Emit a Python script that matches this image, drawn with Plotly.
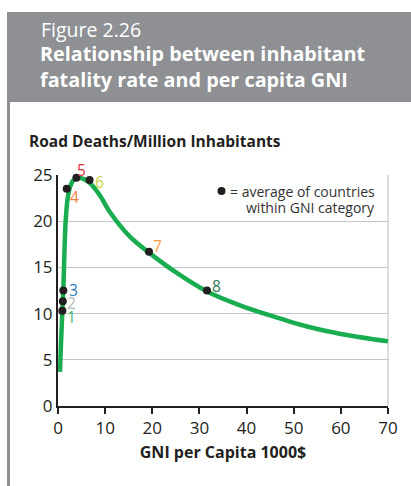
import plotly.graph_objects as go

# ---- data ----
curve_x = [0.42, 0.6, 0.8, 0.92, 1.0, 1.13, 1.3, 1.6, 2.0, 2.5, 3.2, 4.3, 5.5, 7.0, 9.0, 11.0, 15.3, 19.3, 25.2, 31.6, 38.6, 45.0, 52.8, 60.0, 70.0]
curve_y = [3.7, 6.3, 8.8, 10.3, 11.3, 12.5, 15.5, 19.8, 22.3, 23.6, 24.4, 24.7, 24.55, 24.0, 22.7, 21.0, 18.3, 16.6, 14.4, 12.4, 10.9, 9.8, 8.6, 7.8, 7.0]

point_labels = ["1", "2", "3", "4", "5", "6", "7", "8"]
point_x = [0.92, 1.02, 1.13, 1.85, 3.9, 6.7, 19.3, 31.6]
point_y = [10.3, 11.35, 12.5, 23.5, 24.7, 24.45, 16.7, 12.5]

x_ticks = [0, 10, 20, 30, 40, 50, 60, 70]
y_ticks = [0, 5, 10, 15, 20, 25]

# ---- styles ----
label_colors = ["#3cb878", "#b4b8bc", "#2b7bc0", "#f08040", "#e0323c", "#c8d23c", "#f7a040", "#2e7d55"]
label_shift = [(9, -6), (9, -2), (10, 1), (8, -8), (5, 8), (10, -2), (9, 6), (10, 5)]
GREEN = "#19ad50"
GRAY = "#8e9094"
FONT = "Open Sans"

W, H = 411, 486
L, R, T, B = 58, 23, 175, 80
PW, PH = W - L - R, H - T - B


def px(x):
    return (x - L) / PW


def py(y):
    return (H - B - y) / PH


fig = go.Figure()
fig.add_trace(go.Scatter(x=curve_x, y=curve_y, mode="lines",
                         line=dict(color=GREEN, width=4.5, shape="spline", smoothing=0.8),
                         hoverinfo="skip", cliponaxis=False))
fig.add_trace(go.Scatter(x=point_x, y=point_y, mode="markers",
                         marker=dict(color="#231f20", size=8), cliponaxis=False))

annotations = []
for lab, x, y, c, (dx, dy) in zip(point_labels, point_x, point_y, label_colors, label_shift):
    annotations.append(dict(x=x, y=y, xref="x", yref="y", text=lab, showarrow=False,
                            xshift=dx, yshift=dy, font=dict(family=FONT, size=15.5, color=c)))

# header
annotations += [
    dict(x=px(39), y=py(29), xref="paper", yref="paper", text="Figure 2.26", showarrow=False,
         xanchor="left", yanchor="middle", font=dict(family=FONT, size=19.5, color="white")),
    dict(x=px(38), y=py(66), xref="paper", yref="paper",
         text="<b>Relationship between inhabitant</b><br><b>fatality rate and per capita GNI</b>",
         showarrow=False, xanchor="left", yanchor="middle", align="left",
         font=dict(family=FONT, size=19.8, color="white")),
    dict(x=px(27), y=py(141), xref="paper", yref="paper", text="<b>Road Deaths/Million Inhabitants</b>",
         showarrow=False, xanchor="left", yanchor="middle", font=dict(family=FONT, size=15.5, color="#231f20")),
    dict(x=px(377), y=py(191), xref="paper", yref="paper", text="= average of countries",
         showarrow=False, xanchor="right", yanchor="middle", font=dict(family=FONT, size=14, color="#333")),
    dict(x=px(377), y=py(207), xref="paper", yref="paper", text="within GNI category",
         showarrow=False, xanchor="right", yanchor="middle", font=dict(family=FONT, size=14, color="#333")),
]

shapes = [
    dict(type="rect", xref="paper", yref="paper", x0=px(7), x1=px(W + 2), y0=py(102), y1=py(12),
         fillcolor=GRAY, line=dict(width=0), layer="below"),
    dict(type="rect", xref="paper", yref="paper", x0=px(7), x1=px(10), y0=py(H + 2), y1=py(102),
         fillcolor=GRAY, line=dict(width=0), layer="below"),
    dict(type="line", xref="paper", yref="paper", x0=1, x1=1, y0=0, y1=1,
         line=dict(color="#c4c7cc", width=1.2), layer="below"),
    dict(type="circle", xref="paper", yref="paper", x0=px(217.5), x1=px(225.5), y0=py(195), y1=py(187),
         fillcolor="#231f20", line=dict(width=0)),
]

fig.update_layout(
    width=W, height=H, margin=dict(l=L, r=R, t=T, b=B, autoexpand=False),
    paper_bgcolor="white", plot_bgcolor="white", showlegend=False,
    annotations=annotations, shapes=shapes,
    font=dict(family=FONT, color="#231f20"),
    xaxis=dict(range=[0, 70], tickvals=x_ticks, ticks="outside", ticklen=6, tickwidth=2,
               tickcolor="#231f20", showline=True, linecolor="#231f20", linewidth=2,
               showgrid=False, zeroline=False, tickfont=dict(size=17, family=FONT), automargin=False,
               title=dict(text="<b>GNI per Capita 1000$</b>", font=dict(size=16, family=FONT), standoff=8)),
    yaxis=dict(range=[0, 25], tickvals=y_ticks, ticks="", showline=True, linecolor="#231f20",
               linewidth=2, showgrid=True, gridcolor="#c4c7cc", gridwidth=1.2, zeroline=False,
               tickfont=dict(size=17, family=FONT), automargin=False),
)

fig.write_html("out.html", config={"displayModeBar": False},
               post_script="document.body.style.margin='0';document.body.style.overflow='hidden';")
